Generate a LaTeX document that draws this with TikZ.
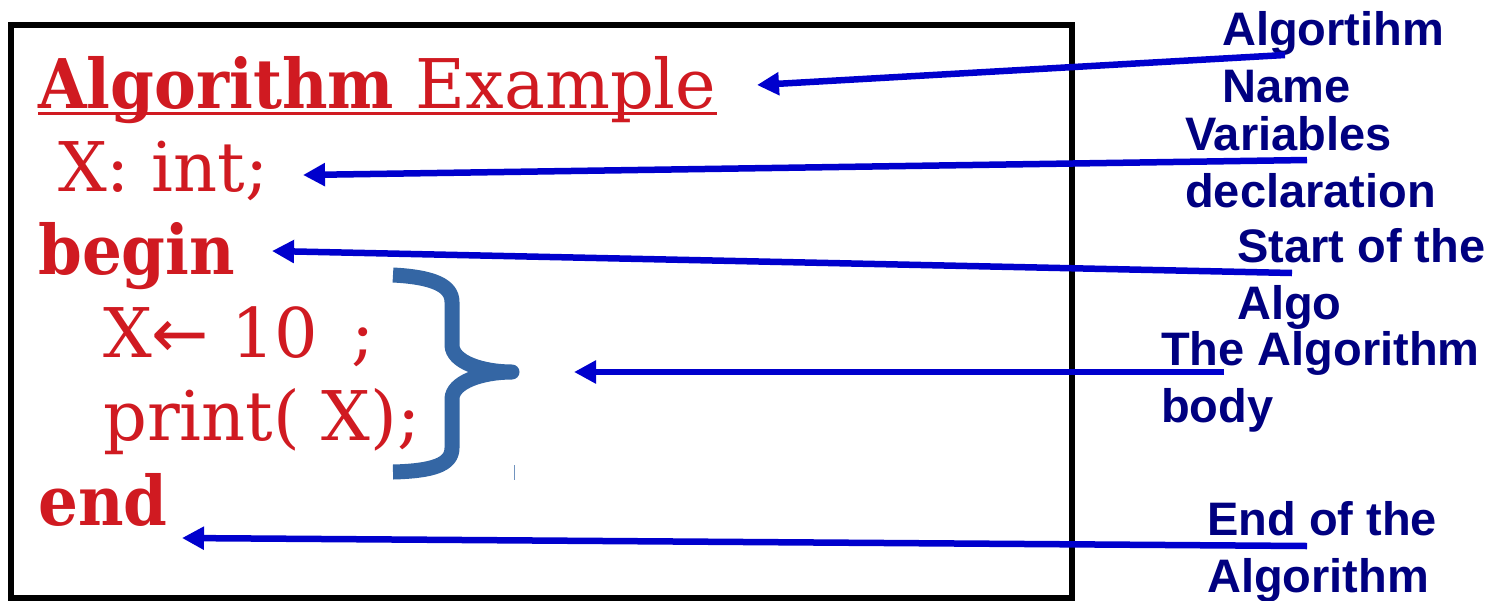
\documentclass[tikz,border=0pt]{standalone}
\usepackage{fontspec}
\setmainfont{DejaVu Serif}[BoldFeatures={FakeStretch=0.915}]
\newfontfamily\labelfont{Liberation Sans}
\newfontfamily\arrfont{DejaVu Sans}
\usetikzlibrary{arrows.meta}
\definecolor{codered}{RGB}{208,26,33}
\definecolor{labelnavy}{RGB}{0,0,128}
\definecolor{arrowblue}{RGB}{0,0,205}
\definecolor{bracecol}{RGB}{52,102,164}
\tikzset{
  code/.style={anchor=base west, inner sep=0pt, text=codered, font=\fontsize{68.5}{80}\selectfont},
  lbl/.style={anchor=base west, inner sep=0pt, text=labelnavy, align=left, font=\labelfont\bfseries\fontsize{47}{57}\selectfont},
  pointer/.style={draw=arrowblue, line width=6.5pt, -{Triangle[length=22pt,width=22pt]}},
}
\begin{document}
\begin{tikzpicture}[x=1pt,y=-1pt]
\useasboundingbox (0,0) rectangle (1504,600);
\fill[white] (0,0) rectangle (1504,600);
% frame
\draw[line width=6pt] (10.5,24.5) rectangle (1071.5,597.5);
% code lines
\node[code] (title) at (38,108) {\textbf{Algorithm} Example};
\draw[codered, line width=3pt] ([yshift=-5pt]title.base west) -- ([yshift=-5pt]title.base east);
\node[code] (decl) at (58,191) {X: int;};
\node[code] (begin) at (38,274) {\textbf{begin}};
\node[code] (assign) at (103,357) {X{\arrfont ←} 10\, ;};
\node[code] (print) at (103,440) {print( X);};
\node[code] (end) at (38,525) {\textbf{end}};
% brace
\draw[bracecol, line width=15pt, line join=round]
  (393,275) .. controls (432,277) and (452,285) .. (452,302) -- (452,345)
  .. controls (452,362) and (482,372) .. (512,372)
  .. controls (482,372) and (452,382) .. (452,399) -- (452,448)
  .. controls (452,465) and (432,471) .. (393,472);
\draw[bracecol!70, line width=1pt] (514,465) -- (514,480);
% labels (anchor is the baseline of the second line)
\node[lbl] (lname) at (1222,102) {Algortihm\\Name};
\node[lbl] (lvar) at (1185,207) {Variables\\declaration};
\node[lbl] (lstart) at (1237,319) {Start of the\\Algo};
\node[lbl] (lbody) at (1161,422) {The Algorithm\\body};
\node[lbl] (lend) at (1207,592) {End of the\\Algorithm};
% arrow endpoints
\coordinate (s1) at (1285,55);  \coordinate (t1) at (757,85);
\coordinate (s2) at (1307,160); \coordinate (t2) at (303,175);
\coordinate (s3) at (1292,273); \coordinate (t3) at (272,251);
\coordinate (s4) at (1224,372); \coordinate (t4) at (574,372);
\coordinate (s5) at (1307,546); \coordinate (t5) at (182,538);
\draw[pointer] (s1) -- (t1);
\draw[pointer] (s2) -- (t2);
\draw[pointer] (s3) -- (t3);
\draw[pointer] (s4) -- (t4);
\draw[pointer] (s5) -- (t5);
\end{tikzpicture}
\end{document}
